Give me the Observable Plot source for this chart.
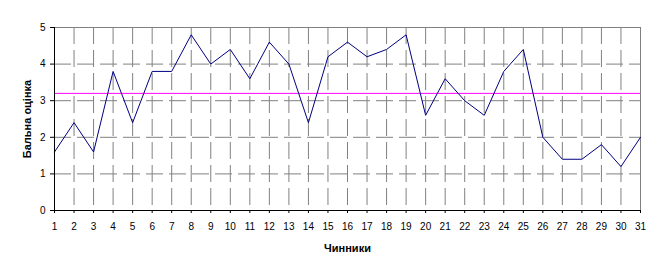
<!DOCTYPE html>
<html>
<head>
<meta charset="utf-8">
<script src="https://cdn.jsdelivr.net/npm/d3@7"></script>
<script src="https://cdn.jsdelivr.net/npm/@observablehq/plot@0.6"></script>
<style>
  html, body { margin: 0; padding: 0; background: #fff; }
  svg { display: block; }
</style>
</head>
<body>
<script>
const factors = [1,2,3,4,5,6,7,8,9,10,11,12,13,14,15,16,17,18,19,20,21,22,23,24,25,26,27,28,29,30,31];
const scores  = [1.6,2.4,1.6,3.8,2.4,3.8,3.8,4.8,4.0,4.4,3.6,4.6,4.0,2.4,4.2,4.6,4.2,4.4,4.8,2.6,3.6,3.0,2.6,3.8,4.4,2.0,1.4,1.4,1.8,1.2,2.0];
const yTicks  = [0,1,2,3,4,5];
const xTitle  = "Чинники";
const yTitle  = "Бальна оцінка";

const data = factors.map((f, i) => ({factor: f, score: scores[i]}));
const meanScore = d3.mean(scores);

const grid = "#808080";
const dash = "17,6";

const chart = Plot.plot({
  width: 665,
  height: 276,
  marginLeft: 54,
  marginRight: 25,
  marginTop: 27,
  marginBottom: 66,
  style: {fontFamily: "'Liberation Sans', Arial, sans-serif", fontSize: "10px", background: "#fff", color: "#000", overflow: "visible"},
  x: {domain: [1, 31]},
  y: {domain: [0, 5]},
  marks: [
    Plot.ruleX(factors.slice(1, -1), {stroke: grid, strokeDasharray: dash}),
    Plot.ruleY(yTicks.slice(1, -1), {stroke: grid, strokeDasharray: dash}),
    Plot.ruleX(factors.slice(-1), {stroke: grid}),
    Plot.ruleY(yTicks.slice(-1), {stroke: grid}),
    Plot.ruleY([meanScore], {stroke: "#ff00ff"}),
    Plot.line(data, {x: "factor", y: "score", stroke: "#000080", strokeWidth: 1}),
    Plot.ruleX(factors.slice(0, 1), {stroke: "#000"}),
    Plot.ruleY(yTicks.slice(0, 1), {stroke: "#000"}),
    Plot.axisX({ticks: factors, tickFormat: d => String(d), tickSize: 3, tickPadding: 9, label: null, stroke: "#000", fill: "#000"}),
    Plot.axisY({ticks: yTicks, tickFormat: d => String(d), tickSize: 4, tickPadding: 5, label: null, stroke: "#000", fill: "#000"}),
    Plot.text([xTitle], {frameAnchor: "bottom", dy: 37.5, textAnchor: "middle", lineAnchor: "middle", fontWeight: "bold", fontSize: 11, fill: "#000"}),
    Plot.text([yTitle], {frameAnchor: "left", dx: -26.8, rotate: -90, textAnchor: "middle", lineAnchor: "middle", fontWeight: "bold", fontSize: 11, fill: "#000"})
  ]
});
document.body.appendChild(chart);
</script>
</body>
</html>
